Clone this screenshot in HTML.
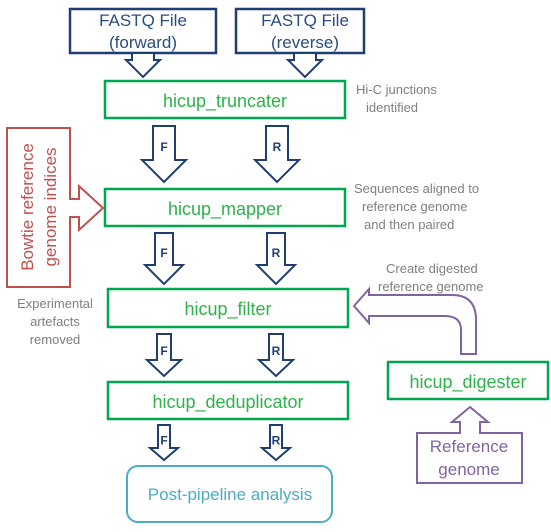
<!DOCTYPE html>
<html><head><meta charset="utf-8"><style>
html,body{margin:0;padding:0;background:#fff;}
svg{display:block;font-family:"Liberation Sans",Calibri,sans-serif;}
</style></head><body>
<svg width="551" height="532" viewBox="0 0 551 532">
<g fill="#fff" stroke="#1f3f73" stroke-width="2.5">
<rect x="70" y="9" width="146" height="44"/>
<rect x="236" y="9" width="128" height="44"/>
</g>
<g font-size="17" fill="#2a4d80" text-anchor="middle">
<text x="143" y="26">FASTQ File</text><text x="143" y="48">(forward)</text>
<text x="305" y="26">FASTQ File</text><text x="305" y="48">(reverse)</text>
</g>
<g id="arrows" fill="#fff" stroke="#1f3f73" stroke-width="2"></g>
<g fill="#fff" stroke="#00a650" stroke-width="2.5">
<rect x="105" y="81" width="240" height="37"/>
<rect x="105" y="189" width="240" height="37"/>
<rect x="108" y="289" width="240" height="38"/>
<rect x="108" y="382" width="240" height="37"/>
<rect x="388" y="362" width="160" height="37"/>
</g>
<g font-size="18" fill="#2db34a" text-anchor="middle">
<text x="225" y="107">hicup_truncater</text>
<text x="225" y="215">hicup_mapper</text>
<text x="228" y="315">hicup_filter</text>
<text x="228" y="408">hicup_deduplicator</text>
<text x="468" y="388">hicup_digester</text>
</g>
<rect x="127" y="466" width="205" height="56" rx="11" fill="#fff" stroke="#4bacc6" stroke-width="2"/>
<text x="230" y="500" font-size="17" fill="#4bacc6" text-anchor="middle">Post-pipeline analysis</text>
<polygon points="7,128 70,128 70,199 79,199 79,186 103,208 79,230 79,217 70,217 70,287 7,287" fill="#fff" stroke="#c0504d" stroke-width="2"/>
<g font-size="17" fill="#c0504d" text-anchor="middle">
<text transform="translate(33,207) rotate(-90)">Bowtie reference</text>
<text transform="translate(56,207) rotate(-90)">genome indices</text>
</g>
<path d="M461,354 L461,330 Q461,316 445,316 L369,316 L369,323 L354,306 L369,289 L369,295 L452,295 Q476,295 476,320 L476,354 Z" fill="#fff" stroke="#8064a2" stroke-width="2"/>
<polygon points="470,407 488,422 480,422 480,433 522,433 522,483 417,483 417,433 460,433 460,422 452,422" fill="#fff" stroke="#8064a2" stroke-width="2"/>
<g font-size="17" fill="#8064a2" text-anchor="middle">
<text x="469" y="452">Reference</text><text x="469" y="475">genome</text>
</g>
<g font-size="13" fill="#7f7f7f">
<text x="356" y="94">Hi-C junctions</text><text x="366" y="112">identified</text>
<text x="354" y="193">Sequences aligned to</text><text x="362" y="211">reference genome</text><text x="364" y="229">and then  paired</text>
<text x="386" y="273">Create digested</text><text x="378" y="291">reference genome</text>
<g text-anchor="middle"><text x="55" y="308">Experimental</text><text x="55" y="326">artefacts</text><text x="55" y="344">removed</text></g>
</g>
<g id="labels" font-size="12" font-weight="bold" fill="#1f3f73" text-anchor="middle"></g>
<script>
const arrowSpecs=[
 [143,53,11,17,60,77,''],[305,53,11,17,60,77,''],
 [164,126,11,22,160,182,'F'],[277,126,11,22,160,182,'R'],
 [164,233,9,19,265,284,'F'],[276,233,9,19,265,284,'R'],
 [164,334,7,17,360,376,'F'],[276,334,7,17,360,376,'R'],
 [164,425,6,14,448,460,'F'],[276,425,6,14,448,460,'R']
];
const g=document.getElementById('arrows'),lg=document.getElementById('labels'),ns='http://www.w3.org/2000/svg';
arrowSpecs.forEach((a,i)=>{
 const [cx,t,s,h,hs,tip,l]=a;
 const p=document.createElementNS(ns,'polygon');
 p.setAttribute('points',[[cx-s,t],[cx+s,t],[cx+s,hs],[cx+h,hs],[cx,tip],[cx-h,hs],[cx-s,hs]].map(q=>q.join(',')).join(' '));
 
 
 g.appendChild(p);
 if(l){const tx=document.createElementNS(ns,'text');tx.setAttribute('x',cx);tx.setAttribute('y',t+(hs-t)/2+8);tx.textContent=l;
 
 
 lg.appendChild(tx);}
});
</script>
</svg>
</body></html>
